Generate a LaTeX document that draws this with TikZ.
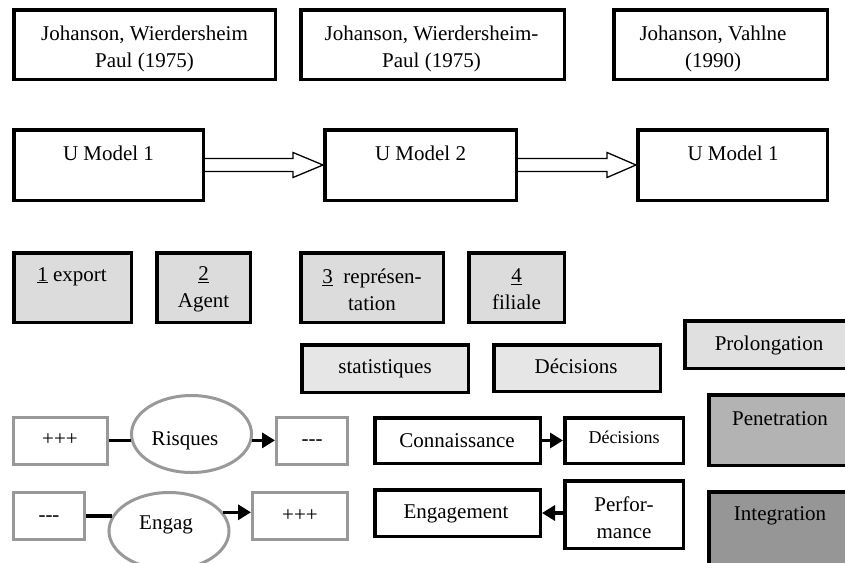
\documentclass[tikz,border=0pt]{standalone}
\usepackage{fontspec}
\setmainfont{Liberation Serif}
\usetikzlibrary{arrows.meta,shapes.geometric}
\definecolor{fillA}{HTML}{DCDCDC}
\definecolor{fillB}{HTML}{E6E6E6}
\definecolor{fillC}{HTML}{E0E0E0}
\definecolor{fillD}{HTML}{B3B3B3}
\definecolor{fillE}{HTML}{969696}
\definecolor{grayline}{HTML}{999999}
\tikzset{
  bbox/.style={draw=black, line width=3.5pt, inner sep=0pt, fill=white, rectangle},
  gbox/.style={draw=grayline, line width=3pt, inner sep=0pt, fill=white, rectangle},
  gell/.style={draw=grayline, line width=3pt, inner sep=0pt, fill=white, ellipse},
  txt/.style={inner sep=0pt, align=center, font=\fontsize{21}{27}\selectfont},
  one/.style={txt, text height=14.7pt, text depth=4.2pt},
  smalltxt/.style={inner sep=0pt, align=center, font=\fontsize{18}{22}\selectfont, text height=12.6pt, text depth=3.6pt},
  hollow/.style={draw=black, line width=1.3pt, fill=white, line join=miter},
  conn/.style={draw=black, line width=3.5pt},
  tip/.style={-{Triangle[length=13pt,width=15pt]}}
}
\begin{document}
\begin{tikzpicture}[x=1pt,y=-1pt]
\useasboundingbox (0,0) rectangle (845,562);
\clip (0,0) rectangle (845,562);
% top row
\node[bbox, minimum width=261.5pt, minimum height=69.5pt] (a) at (144.5,44.5) {};
\node[bbox, minimum width=263.5pt, minimum height=69.5pt] (b) at (432.5,44.5) {};
\node[bbox, minimum width=213.5pt, minimum height=69.5pt] (c) at (720.5,44.5) {};
\node[txt] (a-t) at (144.5,48.5) {Johanson, Wierdersheim\\Paul (1975)};
\node[txt] (b-t) at (431.5,48.5) {Johanson, Wierdersheim-\\Paul (1975)};
\node[txt] (c-t) at (713,48.5) {Johanson, Vahlne\\(1990)};
% U models
\node[bbox, minimum width=189.5pt, minimum height=70.5pt] (um1) at (108.5,165) {};
\node[bbox, minimum width=191.5pt, minimum height=70.5pt] (um2) at (420.5,165) {};
\node[bbox, minimum width=189.5pt, minimum height=70.5pt] (um3) at (732.5,165) {};
\node[one] (um1-t) at (108.5,155) {U Model 1};
\node[one] (um2-t) at (420.5,155) {U Model 2};
\node[one] (um3-t) at (733,155) {U Model 1};
\draw[hollow] ([yshift=6.5pt]um1.east) -- ([xshift=-30pt,yshift=6.5pt]um2.west) -- ([xshift=-30pt,yshift=12.5pt]um2.west) -- (um2.west) -- ([xshift=-30pt,yshift=-12.5pt]um2.west) -- ([xshift=-30pt,yshift=-6.5pt]um2.west) -- ([yshift=-6.5pt]um1.east);
\draw[hollow] ([yshift=6.5pt]um2.east) -- ([xshift=-29pt,yshift=6.5pt]um3.west) -- ([xshift=-29pt,yshift=12.5pt]um3.west) -- (um3.west) -- ([xshift=-29pt,yshift=-12.5pt]um3.west) -- ([xshift=-29pt,yshift=-6.5pt]um3.west) -- ([yshift=-6.5pt]um2.east);
% stages
\node[bbox, fill=fillA, minimum width=117.5pt, minimum height=69.5pt] (s1) at (72.5,287.5) {};
\node[bbox, fill=fillA, minimum width=93.5pt, minimum height=69.5pt] (s2) at (203.5,287.5) {};
\node[bbox, fill=fillA, minimum width=142.5pt, minimum height=69.5pt] (s3) at (372,287.5) {};
\node[bbox, fill=fillA, minimum width=95.5pt, minimum height=69.5pt] (s4) at (516.5,287.5) {};
\node[one] (s1-t) at (72,276) {\underline{1} export};
\node[txt] (s2-t) at (203.5,289.5) {\underline{2}\\Agent};
\node[txt] (s3-t) at (372,289.5) {\underline{3}~ représen-\\tation};
\node[txt] (s4-t) at (516.5,289.5) {\underline{4}\\filiale};
% statistiques / décisions
\node[bbox, fill=fillB, minimum width=166.5pt, minimum height=47.5pt] (stat) at (385,368.5) {};
\node[bbox, fill=fillB, minimum width=166.5pt, minimum height=46.5pt] (dec1) at (577,368) {};
\node[one] (stat-t) at (385,368) {statistiques};
\node[one] (dec1-t) at (576,368) {Décisions};
% right column
\node[bbox, fill=fillC, minimum width=168.5pt, minimum height=47.5pt] (prol) at (769,344.5) {};
\node[bbox, fill=fillD, minimum width=142.5pt, minimum height=70.5pt] (pen) at (780,430) {};
\node[bbox, fill=fillE, minimum width=142.5pt, minimum height=76.5pt] (integ) at (780,530) {};
\node[one] (prol-t) at (769,345) {Prolongation};
\node[one] (pen-t) at (780,420) {Penetration};
\node[one] (integ-t) at (780,515) {Integration};
% connaissance / engagement
\node[bbox, minimum width=165.5pt, minimum height=45.5pt] (conn) at (457.5,440.5) {};
\node[bbox, minimum width=118.5pt, minimum height=45.5pt] (dec2) at (624,440.5) {};
\node[bbox, minimum width=165.5pt, minimum height=46.5pt] (engt) at (457.5,513) {};
\node[bbox, minimum width=118.5pt, minimum height=67.5pt] (perf) at (624,514.5) {};
\node[one] (conn-t) at (457,442) {Connaissance};
\node[smalltxt] (dec2-t) at (624,439) {Décisions};
\node[one] (engt-t) at (456,513) {Engagement};
\node[txt] (perf-t) at (624,518) {Perfor-\\mance};
\draw[conn, tip] (conn.east) -- (dec2.west);
\draw[conn, tip] (engt.east -| perf.west) -- (engt.east);
% risques / engag
\node[gbox, minimum width=94pt, minimum height=47pt] (p1) at (60.5,441) {};
\node[gbox, minimum width=71pt, minimum height=47pt] (m1) at (312,441) {};
\node[gell, minimum width=120pt, minimum height=77pt] (risq) at (191.5,434) {};
\node[one] (p1-t) at (60,440) {+++};
\node[one] (m1-t) at (312,440) {-{}-{}-};
\node[one] (risq-t) at (185,440) {Risques};
\draw[conn] (risq.186 -| p1.east) -- (risq.186);
\draw[conn, tip] (risq.-6) -- (risq.-6 -| m1.west);
\node[gbox, minimum width=71pt, minimum height=47pt] (m2) at (49,516) {};
\node[gbox, minimum width=95pt, minimum height=47pt] (p2) at (300,516) {};
\node[gell, minimum width=120pt, minimum height=77pt] (engag) at (169,531) {};
\node[one] (m2-t) at (49,516) {-{}-{}-};
\node[one] (p2-t) at (300,516) {+++};
\node[one] (engag-t) at (166,524) {Engag};
\draw[conn] (engag.165 -| m2.east) -- (engag.165);
\draw[conn, tip] (engag.19) -- (engag.19 -| p2.west);
\end{tikzpicture}
\end{document}
